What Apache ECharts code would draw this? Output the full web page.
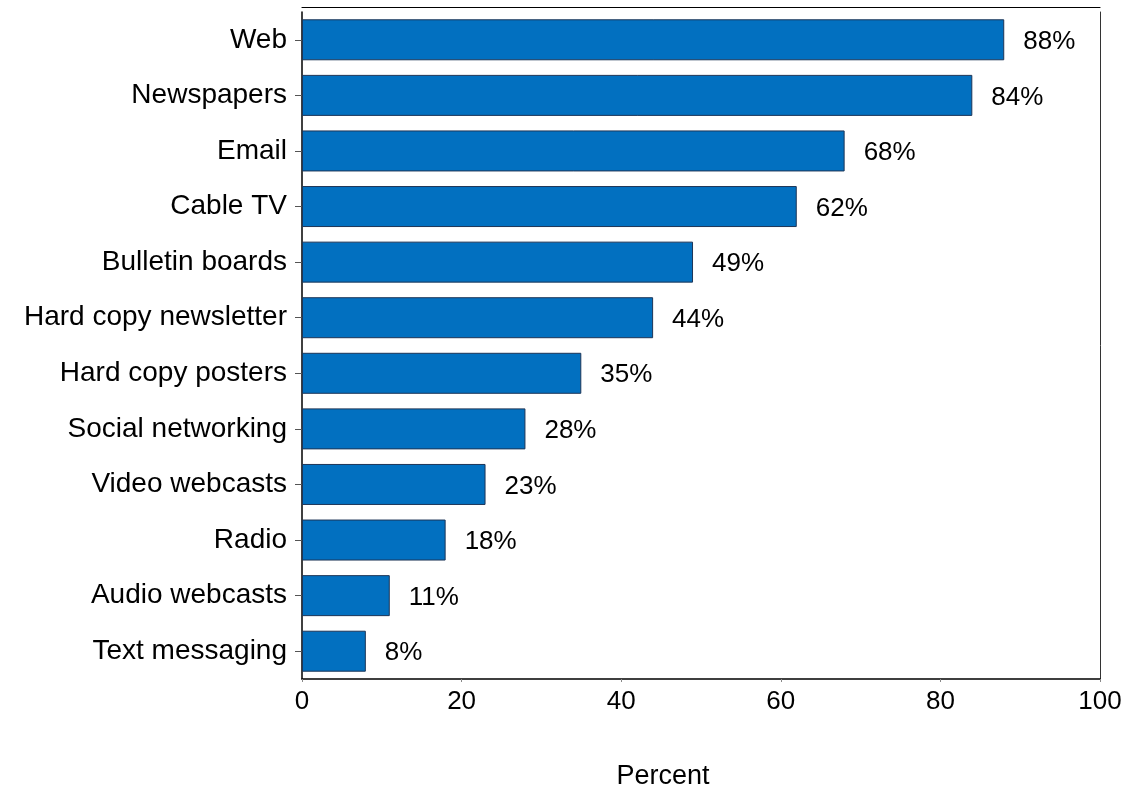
<!DOCTYPE html>
<html>
<head>
<meta charset="utf-8">
<script src="https://cdn.jsdelivr.net/npm/echarts@6/dist/echarts.min.js"></script>
<style>
  html, body { margin: 0; padding: 0; background: #fff; }
  #chart { width: 1123px; height: 789px; }
</style>
</head>
<body>
<div id="chart"></div>
<script>
// Channels used, share of respondents (%)
const categories = [
  'Web', 'Newspapers', 'Email', 'Cable TV', 'Bulletin boards',
  'Hard copy newsletter', 'Hard copy posters', 'Social networking',
  'Video webcasts', 'Radio', 'Audio webcasts', 'Text messaging'
];
const percents = [88, 84, 68, 62, 49, 44, 35, 28, 23, 18, 11, 8];
const xTicks = [0, 20, 40, 60, 80, 100];

const FONT = 'Liberation Sans, Arial, sans-serif';
const chart = echarts.init(document.getElementById('chart'));

chart.setOption({
  animation: false,
  backgroundColor: '#ffffff',
  grid: {
    left: 302, right: 23, top: 12, bottom: 110,
    outerBoundsMode: 'none',
    show: false
  },
  xAxis: [{
    type: 'value',
    min: xTicks[0],
    max: xTicks[xTicks.length - 1],
    interval: 20,
    name: 'Percent',
    nameLocation: 'middle',
    nameGap: 84,
    nameTextStyle: { fontFamily: FONT, fontSize: 27, color: '#000', padding: [0, 76, 0, 0] },
    axisLine: { show: true, lineStyle: { color: '#000', width: 1.5 } },
    axisTick: { show: true, length: 3, lineStyle: { color: '#888' } },
    axisLabel: { fontFamily: FONT, fontSize: 26, color: '#000', margin: 10 },
    splitLine: { show: false }
  }, {
    // frame line along the top of the plot
    type: 'value',
    position: 'top',
    offset: 5,
    min: xTicks[0],
    max: xTicks[xTicks.length - 1],
    axisLine: { show: true, onZero: false, lineStyle: { color: '#000', width: 1.2 } },
    axisTick: { show: false },
    axisLabel: { show: false },
    splitLine: { show: false }
  }],
  yAxis: [{
    type: 'category',
    data: categories,
    inverse: true,
    axisLine: { show: true, lineStyle: { color: '#000', width: 1.5 } },
    axisTick: { show: true, alignWithLabel: true, length: 7, lineStyle: { color: '#555' } },
    axisLabel: { fontFamily: FONT, fontSize: 28, color: '#000', margin: 15 }
  }, {
    // frame line along the right of the plot
    type: 'category',
    data: categories,
    inverse: true,
    position: 'right',
    axisLine: { show: true, onZero: false, lineStyle: { color: '#333', width: 1 } },
    axisTick: { show: false },
    axisLabel: { show: false }
  }],
  series: [{
    type: 'bar',
    xAxisIndex: 0,
    yAxisIndex: 0,
    data: percents,
    barWidth: 41,
    itemStyle: { color: '#0270C0', borderColor: '#1d3557', borderWidth: 1 },
    label: {
      show: true,
      position: 'right',
      distance: 19,
      offset: [0, 2],
      fontFamily: FONT,
      fontSize: 26,
      color: '#000',
      formatter: p => p.value + '%'
    }
  }]
});
</script>
</body>
</html>
